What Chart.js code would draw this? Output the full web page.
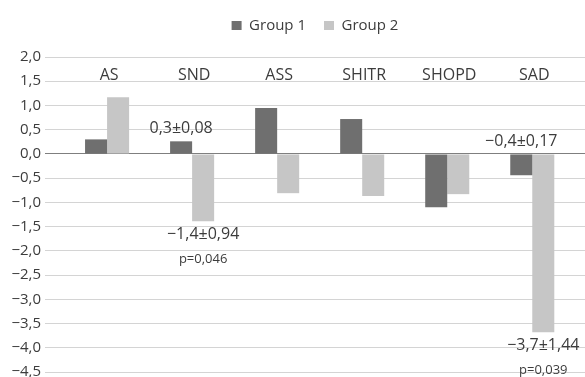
<!DOCTYPE html>
<html>
<head>
<meta charset="utf-8">
<script src="https://cdn.jsdelivr.net/npm/chart.js@4/dist/chart.umd.min.js"></script>
<style>
  html, body { margin: 0; padding: 0; background: #fff; }
  #wrap { width: 585px; height: 377px; }
</style>
</head>
<body>
<div id="wrap"><canvas id="barChartCanvas"></canvas></div>
<script>
var categories = ['AS', 'SND', 'ASS', 'SHITR', 'SHOPD', 'SAD'];
var seriesNames = ['Group 1', 'Group 2'];
var group1 = [0.30, 0.26, 0.95, 0.72, -1.10, -0.44];
var group2 = [1.17, -1.39, -0.81, -0.87, -0.83, -3.68];

// value notes printed next to some bars
var noteCategory = [1, 1, 5, 5];
var noteSeries = [0, 1, 0, 1];
var noteText = ['0,3±0,08', '−1,4±0,94', '−0,4±0,17', '−3,7±1,44'];
var noteP = ['', 'p=0,046', '', 'p=0,039'];
var noteSide = ['above', 'below', 'above', 'below'];

var yMin = -4.5, yMax = 2.0, yStep = 0.5;

var textColor = '#3c3c3c';
var fontFamily = "'Open Sans', sans-serif";

function fmt(v) {
  var s = Math.abs(v).toFixed(1).replace('.', ',');
  return v < -0.0001 ? '−' + s : s;
}

function points(values) {
  return values.map(function (v, i) { return { x: i, y: v }; });
}

// leave room between the legend and the top gridline
var legendGap = {
  id: 'legendGap',
  beforeInit: function (chart) {
    var fit = chart.legend.fit;
    chart.legend.fit = function () {
      fit.call(this);
      this.height = 57;
    };
  }
};

// category names sit inside the plot, just on top of the 1,5 gridline
var categoryLabels = {
  id: 'categoryLabels',
  afterDatasetsDraw: function (chart) {
    var ctx = chart.ctx;
    var xs = chart.scales.x, ys = chart.scales.y;
    ctx.save();
    ctx.font = '16px ' + fontFamily;
    ctx.fillStyle = textColor;
    ctx.textAlign = 'center';
    ctx.textBaseline = 'alphabetic';
    categories.forEach(function (c, i) {
      ctx.fillText(c, xs.getPixelForValue(i) + 2, ys.getPixelForValue(1.5) - 1);
    });

    noteText.forEach(function (t, k) {
      var bar = chart.getDatasetMeta(noteSeries[k]).data[noteCategory[k]];
      var top = Math.min(bar.y, bar.base), bottom = Math.max(bar.y, bar.base);
      ctx.textBaseline = 'middle';
      ctx.font = '16px ' + fontFamily;
      if (noteSide[k] === 'above') {
        ctx.fillText(t, bar.x, top - 13);
      } else {
        ctx.fillText(t, bar.x, bottom + 13);
        if (noteP[k]) {
          ctx.font = '13px ' + fontFamily;
          ctx.fillText(noteP[k], bar.x, bottom + 38);
        }
      }
    });
    ctx.restore();
  }
};

var barCtx = document.getElementById('barChartCanvas').getContext('2d');

var barChart = new Chart(barCtx, {
  type: 'bar',
  data: {
    datasets: [
      {
        label: seriesNames[0],
        data: points(group1),
        backgroundColor: '#6f6f6f',
        borderWidth: 0
      },
      {
        label: seriesNames[1],
        data: points(group2),
        backgroundColor: '#c6c6c6',
        borderWidth: 0
      }
    ]
  },
  options: {
    responsive: true,
    maintainAspectRatio: false,
    animation: false,
    categoryPercentage: 0.518,
    barPercentage: 1.0,
    layout: { padding: 0 },
    scales: {
      x: {
        type: 'linear',
        min: -0.73,
        max: 5.62,
        offset: false,
        display: false,
        ticks: { stepSize: 1, includeBounds: false }
      },
      y: {
        min: yMin,
        max: yMax,
        afterFit: function (scale) {
          scale.width = 45;
          scale.paddingTop = 0;
          scale.paddingBottom = 5;
        },
        border: { display: false },
        grid: {
          drawTicks: false,
          lineWidth: 1,
          color: function (c) {
            return c.tick && Math.abs(c.tick.value) < 1e-9 ? '#7f7f7f' : '#d4d4d4';
          }
        },
        ticks: {
          stepSize: yStep,
          padding: 4,
          color: textColor,
          font: { family: fontFamily, size: 15 },
          callback: function (v) { return fmt(v); }
        }
      }
    },
    plugins: {
      legend: {
        position: 'top',
        fullSize: false,
        labels: {
          boxWidth: 10,
          boxHeight: 9,
          padding: 18,
          color: textColor,
          font: { family: fontFamily, size: 15 }
        }
      },
      tooltip: { enabled: false }
    }
  },
  plugins: [legendGap, categoryLabels]
});
</script>
</body>
</html>
